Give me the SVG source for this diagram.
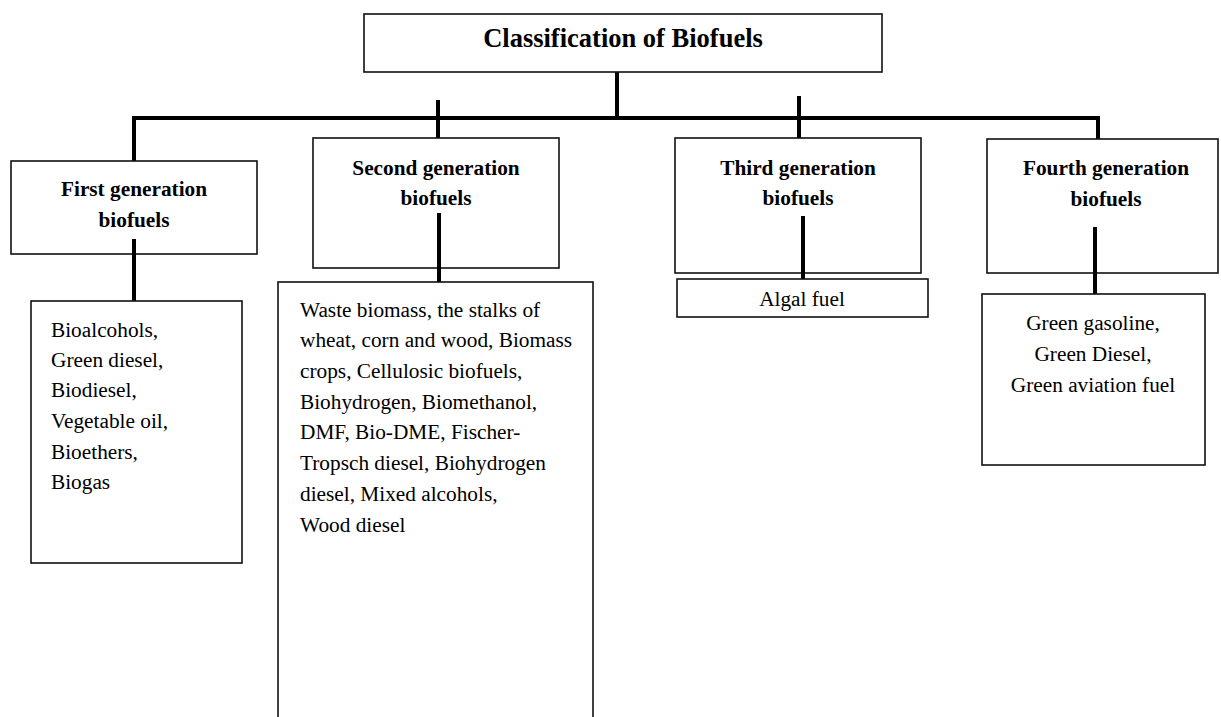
<svg xmlns="http://www.w3.org/2000/svg" width="1221" height="717" viewBox="0 0 1221 717" font-family="'Liberation Serif', 'Times New Roman', Times, 'DejaVu Serif', serif">
<style>
.box{fill:#fff;stroke:#111;stroke-width:1.6}
.con{stroke:#000;stroke-width:4;fill:none}
text{font-family:'Liberation Serif','Times New Roman',Times,'DejaVu Serif',serif;fill:#000}
.title{font-weight:bold;font-size:26.5px;text-anchor:middle}
.hd{font-weight:bold;font-size:21.3px;text-anchor:middle}
.bd{font-size:21.3px}
.bc{font-size:21.3px;text-anchor:middle}
</style>
<rect width="1221" height="717" fill="#fff"/>
<g id="connectors">
<line class="con" x1="132" y1="118" x2="1100" y2="118"/>
<line class="con" x1="617" y1="72" x2="617" y2="120"/>
<line class="con" x1="438" y1="100" x2="438" y2="138"/>
<line class="con" x1="799" y1="96" x2="799" y2="138"/>
<line class="con" x1="134" y1="116" x2="134" y2="161"/>
<line class="con" x1="1098" y1="116" x2="1098" y2="139"/>
</g>
<g id="root">
<rect class="box" x="364" y="14" width="518" height="58"/>
<text class="title" x="623" y="47">Classification of Biofuels</text>
</g>
<g id="first-gen">
<rect class="box" x="11" y="161" width="246" height="93"/>
<text class="hd" x="134" y="196">First generation</text>
<text class="hd" x="134" y="227">biofuels</text>
</g>
<g id="second-gen">
<rect class="box" x="313" y="138" width="246" height="130"/>
<text class="hd" x="436" y="175">Second generation</text>
<text class="hd" x="436" y="205">biofuels</text>
</g>
<g id="third-gen">
<rect class="box" x="675" y="138" width="246" height="135"/>
<text class="hd" x="798" y="175">Third generation</text>
<text class="hd" x="798" y="205">biofuels</text>
</g>
<g id="fourth-gen">
<rect class="box" x="987" y="139" width="231" height="134"/>
<text class="hd" x="1106" y="175">Fourth generation</text>
<text class="hd" x="1106" y="206">biofuels</text>
</g>
<g id="connectors-inner">
<line class="con" x1="134" y1="239" x2="134" y2="301"/>
<line class="con" x1="439" y1="213" x2="439" y2="282"/>
<line class="con" x1="803" y1="216" x2="803" y2="279"/>
<line class="con" x1="1095" y1="227" x2="1095" y2="294"/>
</g>
<g id="first-list">
<rect class="box" x="31" y="301" width="211" height="262"/>
<text class="bd"><tspan x="51" y="337">Bioalcohols,</tspan><tspan x="51" y="367">Green diesel,</tspan><tspan x="51" y="397">Biodiesel,</tspan><tspan x="51" y="428">Vegetable oil,</tspan><tspan x="51" y="459">Bioethers,</tspan><tspan x="51" y="489">Biogas</tspan></text>
</g>
<g id="second-list">
<rect class="box" x="278" y="282" width="315" height="460"/>
<text class="bd"><tspan x="300" y="317">Waste biomass, the stalks of</tspan><tspan x="300" y="347">wheat, corn and wood, Biomass</tspan><tspan x="300" y="378">crops, Cellulosic biofuels,</tspan><tspan x="300" y="409">Biohydrogen, Biomethanol,</tspan><tspan x="300" y="439">DMF, Bio-DME, Fischer-</tspan><tspan x="300" y="470">Tropsch diesel, Biohydrogen</tspan><tspan x="300" y="501">diesel, Mixed alcohols,</tspan><tspan x="300" y="532">Wood diesel</tspan></text>
</g>
<g id="third-list">
<rect class="box" x="677" y="279" width="251" height="38"/>
<text class="bc" x="802" y="306">Algal fuel</text>
</g>
<g id="fourth-list">
<rect class="box" x="982" y="294" width="223" height="171"/>
<text class="bc"><tspan x="1093" y="330">Green gasoline,</tspan><tspan x="1093" y="361">Green Diesel,</tspan><tspan x="1093" y="392">Green aviation fuel</tspan></text>
</g>
</svg>
